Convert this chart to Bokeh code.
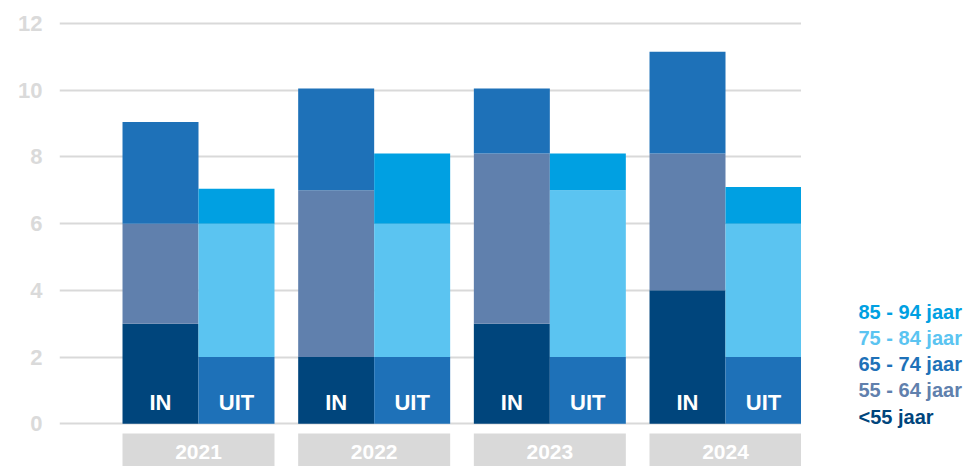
from bokeh.plotting import figure
from bokeh.layouts import row
from bokeh.models import ColumnDataSource, Range1d, FixedTicker
from bokeh.core.properties import value
from bokeh.embed import file_html
from bokeh.resources import INLINE

# ---- data ----
years = ["2021", "2022", "2023", "2024"]
groups = ["<55 jaar", "55 - 64 jaar", "65 - 74 jaar", "75 - 84 jaar", "85 - 94 jaar"]
colors = ["#00457c", "#6080ad", "#1e71b8", "#5bc4f1", "#00a0e2"]

in_lt55 = [3, 2, 3, 4]
in_55_64 = [3, 5, 5.1, 4.1]
in_65_74 = [3.05, 3.05, 1.95, 3.05]
in_75_84 = [0, 0, 0, 0]
in_85_94 = [0, 0, 0, 0]

uit_lt55 = [0, 0, 0, 0]
uit_55_64 = [0, 0, 0, 0]
uit_65_74 = [2, 2, 2, 2]
uit_75_84 = [4, 4, 5, 4]
uit_85_94 = [1.05, 2.1, 1.1, 1.1]

y_ticks = [0, 2, 4, 6, 8, 10, 12]
bar_labels = ["IN", "UIT"]

FONT = "Liberation Sans"
BW = 0.4326
keys = ["lt55", "a55_64", "a65_74", "a75_84", "a85_94"]

idx = list(range(len(years)))
src_in = ColumnDataSource(dict(x=[i - BW / 2 for i in idx], lt55=in_lt55, a55_64=in_55_64,
                               a65_74=in_65_74, a75_84=in_75_84, a85_94=in_85_94))
src_uit = ColumnDataSource(dict(x=[i + BW / 2 for i in idx], lt55=uit_lt55, a55_64=uit_55_64,
                                a65_74=uit_65_74, a75_84=uit_75_84, a85_94=uit_85_94))

H = 466
LEFT = 59
FRAME_W = 742
LEG_W = 963 - LEFT - FRAME_W
yr = Range1d(-1.28, 12.69)

p = figure(width=LEFT + FRAME_W, height=H, output_backend="svg", toolbar_location=None,
           x_range=Range1d(-0.7913, 3.4326), y_range=yr,
           x_axis_location=None, min_border_left=LEFT, min_border_right=0,
           min_border_top=0, min_border_bottom=0)
p.outline_line_color = None
p.background_fill_color = "white"
p.border_fill_color = "white"

# grid + y axis
p.xgrid.visible = False
p.ygrid.ticker = FixedTicker(ticks=y_ticks)
p.ygrid.grid_line_color = "#d9d9d9"
p.ygrid.grid_line_width = 2
ax = p.yaxis[0]
ax.ticker = FixedTicker(ticks=y_ticks)
ax.axis_line_color = None
ax.major_tick_line_color = None
ax.minor_tick_line_color = None
ax.major_tick_in = 0
ax.major_tick_out = 0
ax.major_label_standoff = 17
ax.major_label_text_font = FONT
ax.major_label_text_font_style = "bold"
ax.major_label_text_font_size = "22px"
ax.major_label_text_color = "#dadada"

# stacked bars
p.vbar_stack(keys, x="x", width=BW, color=colors, line_color=None, source=src_in)
p.vbar_stack(keys, x="x", width=BW, color=colors, line_color=None, source=src_uit)

# IN / UIT labels
lab_src = ColumnDataSource(dict(
    x=[i - BW / 2 for i in idx] + [i + BW / 2 for i in idx],
    y=[0.63] * (2 * len(idx)),
    t=[bar_labels[0]] * len(idx) + [bar_labels[1]] * len(idx)))
p.text(x="x", y="y", text="t", source=lab_src, text_color="white",
       text_font=value(FONT), text_font_style="bold", text_font_size="22px",
       text_align="center", text_baseline="middle")

# year boxes
yr_src = ColumnDataSource(dict(left=[i - BW for i in idx], right=[i + BW for i in idx],
                               x=idx, y=[-0.86] * len(idx), t=years))
p.quad(left="left", right="right", top=-0.29, bottom=-1.4, source=yr_src,
       color="#d9d9d9", line_color=None)
p.text(x="x", y="y", text="t", source=yr_src, text_color="white",
       text_font=value(FONT), text_font_style="bold", text_font_size="21px",
       text_align="center", text_baseline="middle")

# legend panel: coloured texts
leg = figure(width=LEG_W, height=H, output_backend="svg", toolbar_location=None,
             x_range=Range1d(0, LEG_W), y_range=yr,
             x_axis_location=None, y_axis_location=None,
             min_border_left=0, min_border_right=0, min_border_top=0, min_border_bottom=0)
leg.outline_line_color = None
leg.xgrid.visible = False
leg.ygrid.visible = False
leg_y = [0.2, 1.0, 1.78, 2.56, 3.34]
leg_src = ColumnDataSource(dict(x=[57] * len(groups), y=leg_y, t=groups, c=colors))
leg.text(x="x", y="y", text="t", text_color="c", source=leg_src,
         text_font=value(FONT), text_font_style="bold", text_font_size="20px",
         text_align="left", text_baseline="middle")

layout = row(p, leg, spacing=0)
open("out.html", "w").write(file_html(layout, INLINE))
